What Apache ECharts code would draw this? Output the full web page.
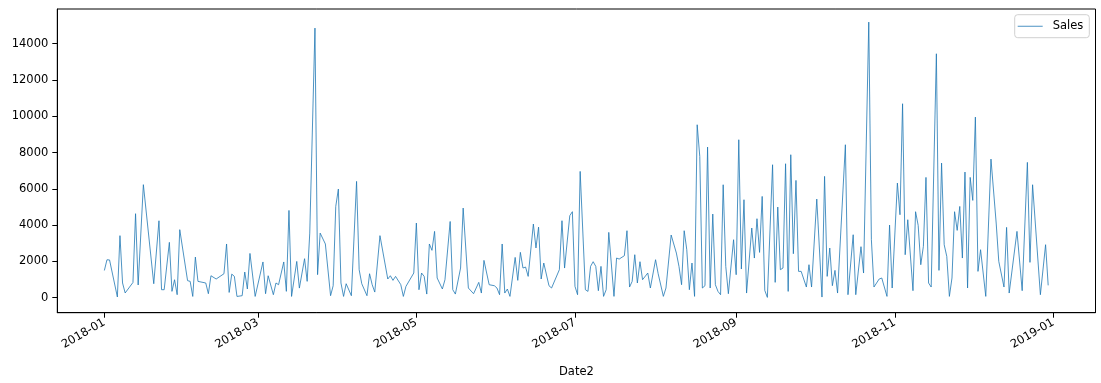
<!DOCTYPE html>
<html>
<head>
<meta charset="utf-8">
<script src="https://cdn.jsdelivr.net/npm/echarts@6/dist/echarts.min.js"></script>
<style>
html,body{margin:0;padding:0;background:#fff;}
#chart{width:1101px;height:383px;}
</style>
</head>
<body>
<div id="chart"></div>
<script>
// Day offsets from 2018-01-01 (Date2) and daily Sales values
const dayOffsets = [
  0,1,2,5,6,7,8,11,12,13,
  15,19,21,22,23,25,26,27,28,29,
  32,33,34,35,36,39,40,41,43,46,
  47,48,49,50,51,53,54,55,56,58,
  61,62,63,65,66,67,69,70,71,72,
  74,75,77,78,79,81,82,83,85,87,
  88,89,90,91,92,93,95,97,98,99,
  101,102,103,104,106,109,110,111,112,114,
  115,116,119,120,121,122,123,124,125,126,
  127,128,130,131,133,134,135,137,138,140,
  142,144,145,146,148,150,151,152,153,154,
  155,156,158,159,160,161,162,163,165,166,
  167,168,169,171,172,175,176,177,179,180,
  181,182,183,185,186,187,188,189,190,191,
  192,193,194,196,197,198,200,201,202,203,
  204,205,206,207,209,210,212,213,215,216,
  218,220,221,222,223,224,225,226,227,228,
  229,230,231,232,233,234,235,236,237,238,
  239,240,242,243,244,245,246,247,249,250,
  251,252,253,254,255,257,258,259,260,261,
  262,263,264,265,266,267,268,270,271,272,
  274,276,277,278,279,280,281,282,285,286,
  288,289,291,292,294,295,296,298,299,301,
  302,303,305,306,307,308,309,311,312,313,
  314,315,316,317,318,320,321,322,323,324,
  325,326,327,328,329,330,331,332,333,334,
  335,336,337,339,341,343,344,346,347,348,
  351,353,355,356,357,360,362,363
];
const sales = [
  1500,2090,2080,40,3420,810,260,840,4630,700,
  6230,770,4240,440,440,3050,350,990,165,3750,
  940,900,70,2240,900,810,220,1210,1030,1320,
  2960,290,1300,1175,70,110,1415,480,2440,70,
  1970,220,1210,165,810,716,1970,350,4810,70,
  2000,530,2150,900,3560,14860,1270,3560,2960,110,
  660,5030,5990,810,70,770,110,6410,1540,770,
  110,1320,720,310,3420,1030,1210,955,1175,720,
  70,625,1360,4115,440,1360,1175,200,2960,2610,
  3655,1085,480,990,4200,440,200,1635,4940,534,
  220,845,257,2057,716,660,534,165,2960,257,
  478,72,2220,955,2500,1635,1690,1175,4060,2740,
  3890,1030,1910,660,534,1543,4243,1635,4518,4740,
  625,165,6960,441,347,1727,1984,1727,386,1727,
  72,441,3600,72,2186,2130,2314,3692,588,900,
  2369,810,1984,992,1360,534,2094,1322,72,534,
  3453,2461,1727,716,3692,2645,441,1910,72,9532,
  7786,534,661,8303,534,4610,716,347,165,6226,
  1727,220,3196,1267,8706,1580,5400,257,3840,2186,
  4353,2497,5582,404,17,7328,845,4996,1543,1635,
  7383,347,7880,2424,6465,1450,1450,588,1818,588,
  5437,35,6686,1175,2738,661,1506,257,8430,165,
  3471,165,2812,1360,15190,3196,588,1030,1085,72,
  4004,534,6318,4573,10690,2369,4298,386,4739,3986,
  1818,2830,6630,810,588,13444,1506,7420,2921,2277,
  72,1085,4739,3710,5030,2186,6925,534,6630,5363,
  9955,1450,2645,72,7640,4115,2002,588,3875,257,
  3655,386,7457,1947,6226,165,2921,680
];
const yTickValues = [0,2000,4000,6000,8000,10000,12000,14000];
const xTickLabels = ['2018-01','2018-03','2018-05','2018-07','2018-09','2018-11','2019-01'];
const seriesName = 'Sales';
const xAxisTitle = 'Date2';

const DAY = 86400000;
const base = Date.UTC(2018,0,1);
const seriesData = dayOffsets.map((d,i)=>[base + d*DAY, sales[i]]);
const xTickValues = xTickLabels.map(s=>{const [y,m]=s.split('-').map(Number);return Date.UTC(y,m-1,1);});

const font = 'DejaVu Sans';
const chart = echarts.init(document.getElementById('chart'), null, {renderer:'canvas'});
chart.setOption({
  animation:false,
  backgroundColor:'#fff',
  grid:{left:57.3,right:5.5,top:9,bottom:70.3,show:true,borderColor:'#000',borderWidth:1,backgroundColor:'transparent'},
  legend:{
    right:11.7, top:14.7,
    padding:[5.5,6,5.5,3],
    itemWidth:25, itemHeight:12,
    borderColor:'#d0d0d0', borderWidth:1, borderRadius:3,
    backgroundColor:'rgba(255,255,255,0.8)',
    textStyle:{fontFamily:font,fontSize:11.5,color:'#000',padding:[0,0,0,5]},
    data:[{name:seriesName,icon:'path://M0,0L25,0L25,0.8L0,0.8Z'}]
  },
  xAxis:{
    type:'value',
    min: base - 18.1*DAY,
    max: base + 381.2*DAY,
    name:xAxisTitle, nameLocation:'middle', nameGap:53,
    nameTextStyle:{fontFamily:font,fontSize:11.5,color:'#000'},
    axisLine:{show:true,onZero:false,lineStyle:{color:'#000',width:1}},
    axisTick:{show:true,length:5,lineStyle:{color:'#000',width:1},customValues:xTickValues},
    axisLabel:{
      customValues:xTickValues,
      rotate:30, margin:9,
      fontFamily:font,fontSize:11.5,color:'#000',
      formatter:function(v){const d=new Date(v);return d.getUTCFullYear()+'-'+String(d.getUTCMonth()+1).padStart(2,'0');}
    },
    splitLine:{show:false}
  },
  yAxis:{
    type:'value',
    min:-827, max:15912,
    axisLine:{show:true,onZero:false,lineStyle:{color:'#000',width:1}},
    axisTick:{show:true,length:5,lineStyle:{color:'#000',width:1},customValues:yTickValues},
    axisLabel:{customValues:yTickValues,margin:9,fontFamily:font,fontSize:11.5,color:'#000',
      formatter:function(v){return String(v);}},
    splitLine:{show:false}
  },
  series:[{
    name:seriesName,
    type:'line',
    data:seriesData,
    symbol:'none',
    lineStyle:{color:'#1f77b4',width:0.8},
    itemStyle:{color:'#1f77b4'}
  }]
});
</script>
</body>
</html>
